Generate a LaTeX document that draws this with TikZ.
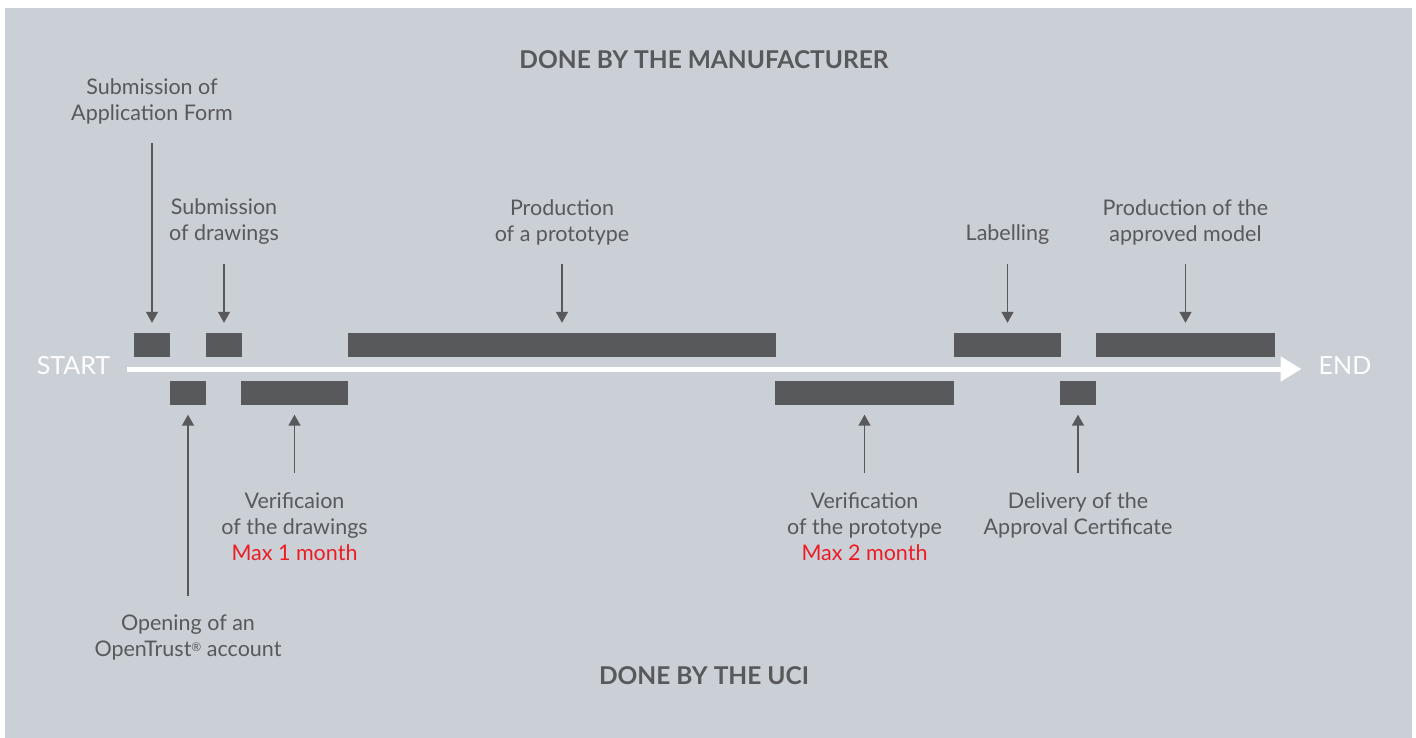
\documentclass[tikz,border=0pt]{standalone}
\usepackage{fontspec}
\setmainfont{Lato}
\usepackage{tikz}
\usetikzlibrary{arrows.meta, positioning}
\definecolor{panel}{HTML}{CBCFD6}
\definecolor{ink}{HTML}{58595B}
\definecolor{alert}{HTML}{ED1C24}
\tikzset{bar/.style={rectangle, fill=ink, inner sep=0pt, minimum height=24pt},
    step label/.style={text=ink, align=center, inner sep=0pt,
        font=\fontsize{21.5}{26}\selectfont},
    side label/.style={text=ink, inner sep=0pt, font=\bfseries\fontsize{24.5}{26}\selectfont},
    end label/.style={text=white, inner sep=0pt, font=\fontsize{25}{26}\selectfont},
    pointer/.style={draw=ink, line width=1.5pt, -{Triangle[width=12pt,length=11pt]},
        shorten <=19pt, shorten >=10pt},
    timeline/.style={draw=white, line width=5pt, -{Triangle[width=24pt,length=21pt]},
        shorten <=17pt, shorten >=17pt}}

\begin{document}
\begin{tikzpicture}[x=1pt,y=-1pt]
        \def \up {345}
        \def \down {392.5}

        \useasboundingbox (0,0) rectangle (1416,738);
        \fill[panel] (5,8) rectangle (1412,738);

        % bars on the timeline
        \foreach \name/\x/\w/\y in {sub1/152/36/\up, sub2/224/36/\up, proto/562/428/\up,
                                    lab/1007.5/107/\up, prod/1185.5/179/\up,
                                    open/188/36/\down, verd/294.5/107/\down,
                                    verp/864.5/179/\down, deliv/1078/36/\down}
        {
            \node[bar, minimum width=\w pt] (\name) at (\x,\y) {};
        }

        \node[end label] (start) at (73.5,366) {START};
        \node[end label] (end) at (1345,366) {END};
        \draw[timeline] ([yshift=-3pt]start.east) -- ([yshift=-3pt]end.west);

        \node[side label] (maker) at (704,60) {DONE BY THE MANUFACTURER};
        \node[side label] (uci) at (704,676) {DONE BY THE UCI};

        % manufacturer steps
        \node[step label, anchor=south] (sub1-t) at (152,124) {Submission of\\Application Form};
        \node[step label, anchor=south] (sub2-t) at (224,245) {Submission\\of drawings};
        \node[step label, anchor=south] (proto-t) at (562,245) {Production\\of a prototype};
        \node[step label, anchor=south] (lab-t) at (1007.5,245) {Labelling};
        \node[step label, anchor=south] (prod-t) at (1185.5,245) {Production of the\\approved model};

        % UCI steps
        \node[step label, anchor=north] (open-t) at (188,615)
            {Opening of an\\OpenTrust{\fontsize{12}{12}\selectfont\raisebox{5pt}{®}} account};
        \node[step label, anchor=north] (verd-t) at (294.5,492)
            {Verificaion\\of the drawings\\\textcolor{alert}{Max 1 month}};
        \node[step label, anchor=north] (verp-t) at (864.5,492)
            {Verification\\of the prototype\\\textcolor{alert}{Max 2 month}};
        \node[step label, anchor=north] (deliv-t) at (1078,492)
            {Delivery of the\\Approval Certificate};

        \foreach \s in {sub1, sub2, proto, lab, prod}
        {
            \draw[pointer] (\s-t.south) -- (\s.north);
        }
        \foreach \s in {open, verd, verp, deliv}
        {
            \draw[pointer] (\s-t.north) -- (\s.south);
        }
    \end{tikzpicture}
\end{document}
